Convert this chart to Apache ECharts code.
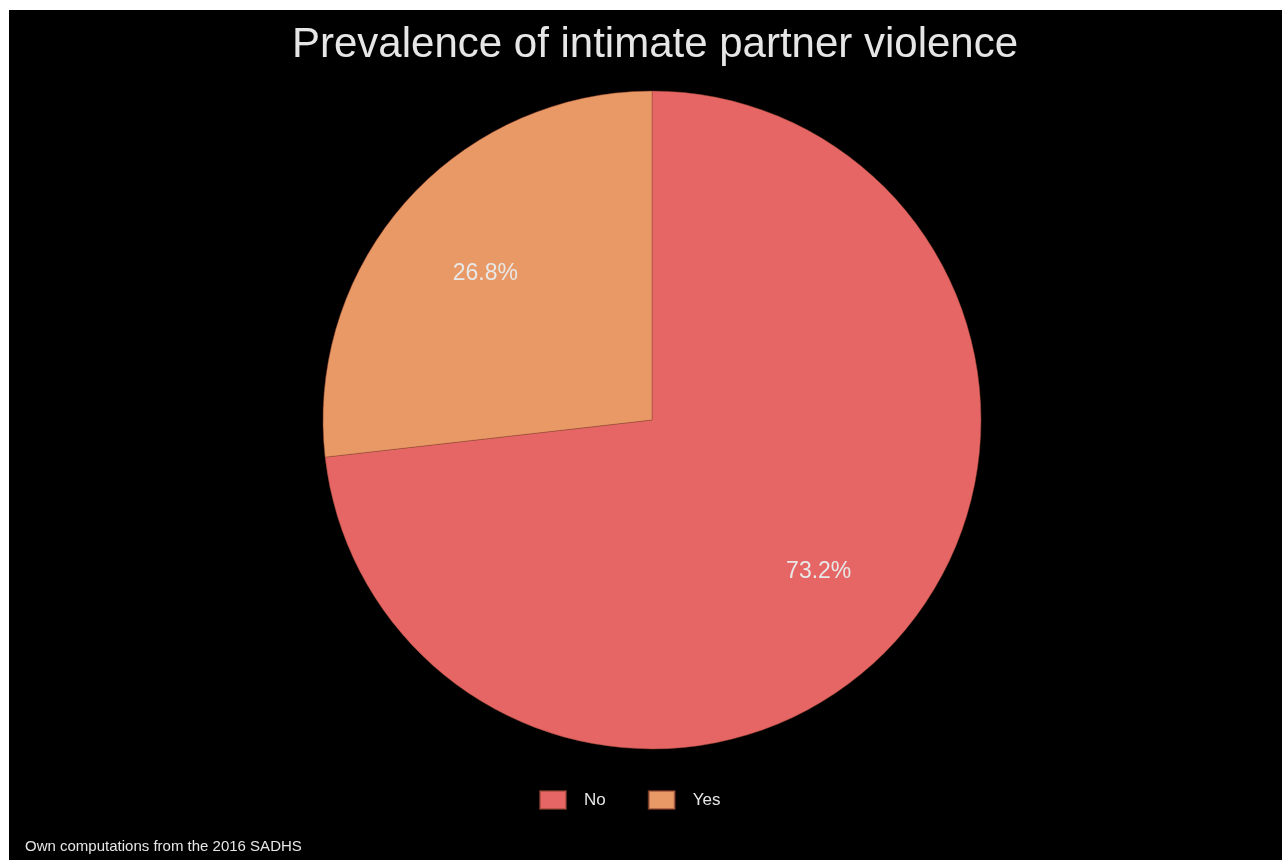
<!DOCTYPE html>
<html>
<head>
<meta charset="utf-8">
<script src="https://cdn.jsdelivr.net/npm/echarts@6/dist/echarts.min.js"></script>
<style>
  html, body { margin: 0; padding: 0; background: #ffffff; }
  #chart { position: absolute; left: 9px; top: 10px; width: 1273px; height: 850px; background: #000000; }
</style>
</head>
<body>
<div id="chart"></div>
<script>
const categories = ["No", "Yes"];
const values = [73.2, 26.8];
const colors = ["#e66665", "#e89966"];
const titleText = "Prevalence of intimate partner violence";
const sourceText = "Own computations from the 2016 SADHS";

const FONT = "'Liberation Sans', Arial, sans-serif";
const chart = echarts.init(document.getElementById('chart'), null, { renderer: 'canvas' });
const pieData = categories.map((c, i) => ({ name: c, value: values[i], itemStyle: { color: colors[i] } }));

chart.setOption({
  backgroundColor: '#000000',
  animation: false,
  title: [{
    text: titleText,
    left: 278,
    top: 9,
    textStyle: { color: '#e6e6e6', fontSize: 42, fontWeight: 'normal', fontFamily: FONT }
  }, {
    text: sourceText,
    left: 11,
    top: 824,
    textStyle: { color: '#e6e6e6', fontSize: 15, fontWeight: 'normal', fontFamily: FONT }
  }],
  legend: {
    data: categories,
    top: 775,
    left: 525,
    itemWidth: 26,
    itemHeight: 18,
    itemGap: 42,
    icon: 'rect',
    textStyle: { color: '#e6e6e6', fontSize: 17, fontFamily: FONT, padding: [0, 0, 0, 13] }
  },
  series: [{
    type: 'pie',
    center: [643, 410],
    radius: [0, 329],
    startAngle: 90,
    clockwise: true,
    data: pieData,
    label: { show: false },
    labelLine: { show: false },
    itemStyle: { borderColor: 'rgba(150,70,50,0.6)', borderWidth: 0.8 },
    emphasis: { disabled: true }
  }, {
    type: 'pie',
    center: [643, 413],
    radius: [112, 329],
    startAngle: 90,
    clockwise: true,
    silent: true,
    legendHoverLink: false,
    data: categories.map((c, i) => ({ name: c, value: values[i] })),
    itemStyle: { color: 'rgba(0,0,0,0)' },
    label: {
      show: true,
      position: 'inside',
      formatter: p => p.value.toFixed(1) + '%',
      color: '#e8e8e8',
      fontSize: 23,
      fontFamily: FONT
    },
    labelLine: { show: false },
    emphasis: { disabled: true }
  }]
});
</script>
</body>
</html>
